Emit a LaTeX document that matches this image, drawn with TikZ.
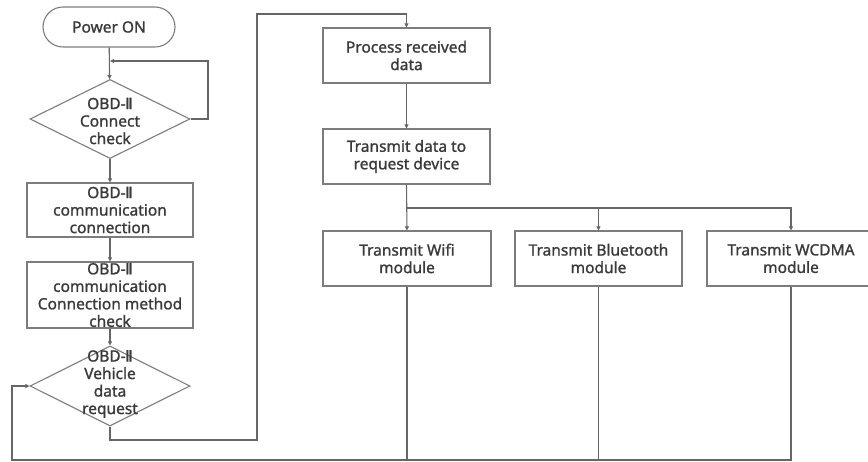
\documentclass[tikz,border=0pt]{standalone}
\usepackage{fontspec}
\setmainfont{Noto Sans}[FakeBold=1.2]
\newfontfamily\romfont{DejaVu Sans}[FakeBold=1.2]
\usetikzlibrary{shapes.geometric,arrows.meta}
\definecolor{edgecol}{HTML}{666666}
\definecolor{boxcol}{HTML}{7C7C7C}
\definecolor{txtcol}{HTML}{3A3A3A}
\newcommand{\obd}{OBD-{\romfont\kern-0.5pt Ⅱ}}
\tikzset{
  every node/.style={font=\fontsize{15.5}{17.5}\selectfont, text=txtcol},
  procbox/.style={draw=boxcol, line width=1.1pt, rectangle, align=center,
    inner sep=0pt, minimum width=#1, minimum height=55pt},
  procbox/.default=167pt,
  termbox/.style={draw=boxcol, line width=1.1pt, rectangle, rounded corners=20pt,
    minimum width=132pt, minimum height=40pt, inner sep=0pt},
  decbox/.style={draw=boxcol, line width=1.1pt, diamond, inner sep=0pt,
    minimum width=160pt, minimum height=79pt},
  label/.style={align=center, inner sep=0pt},
  flow/.style={draw=edgecol, line width=1.1pt},
  arr/.style={flow, -{Triangle[length=4pt,width=4pt]}},
}
\begin{document}
\begin{tikzpicture}[x=1pt, y=-1pt]
\useasboundingbox (0,0) rectangle (868,462);
\clip (0,0) rectangle (868,462);

% left column
\node[termbox] (pwr) at (109,27) {Power ON};
\node[decbox] (d1) at (110,119) {};
\node[label] (d1t) at (110,121) {\obd\\Connect\\check};
\node[procbox=166pt, minimum height=54pt] (b2) at (110,210) {\obd\\communication\\connection};
\node[procbox=166pt, minimum height=66pt] (b3) at (110,295) {\obd\\communication\\Connection method\\check};
\node[decbox, minimum height=80pt] (d2) at (110,386) {};
\node[label] (d2t) at (110,384) {\obd\\Vehicle\\data\\request};

% right part
\node[procbox] (proc) at (406.5,55.5) {Process received\\data};
\node[procbox] (tx) at (406.5,156.5) {Transmit data to\\request device};
\node[procbox=168pt] (m1) at (407,258.5) {Transmit Wifi\\module};
\node[procbox] (m2) at (598.5,258.5) {Transmit Bluetooth\\module};
\node[procbox=168pt] (m3) at (791,258.5) {Transmit WCDMA\\module};

% routing points
\coordinate (j1) at (110,61);
\coordinate (r1) at (208,61);
\coordinate (c1) at (257,440);
\coordinate (c2) at (257,14);
\coordinate (bus) at (406.5,208);
\coordinate (c3) at (12,460);

% connectors
\draw[arr] (pwr) -- (d1);
\draw[arr] (d1.east) -| (r1) -- (j1);
\draw[arr] (d1) -- (b2);
\draw[arr] (b2) -- (b3);
\draw[arr] (b3) -- (d2);
\draw[arr] (d2.south) |- (c1) -- (c2) -| (proc.north);
\draw[arr] (proc) -- (tx);
\draw[arr] (tx.south) -- (m1.north);
\draw[arr] (bus) -| (m2.north);
\draw[arr] (bus) -| (m3.north);
\draw[flow] (m1.south) -- (m1.south |- c3);
\draw[flow] (m2.south) -- (m2.south |- c3);
\draw[arr] (m3.south) |- (c3) |- (d2.west);
\end{tikzpicture}
\end{document}
